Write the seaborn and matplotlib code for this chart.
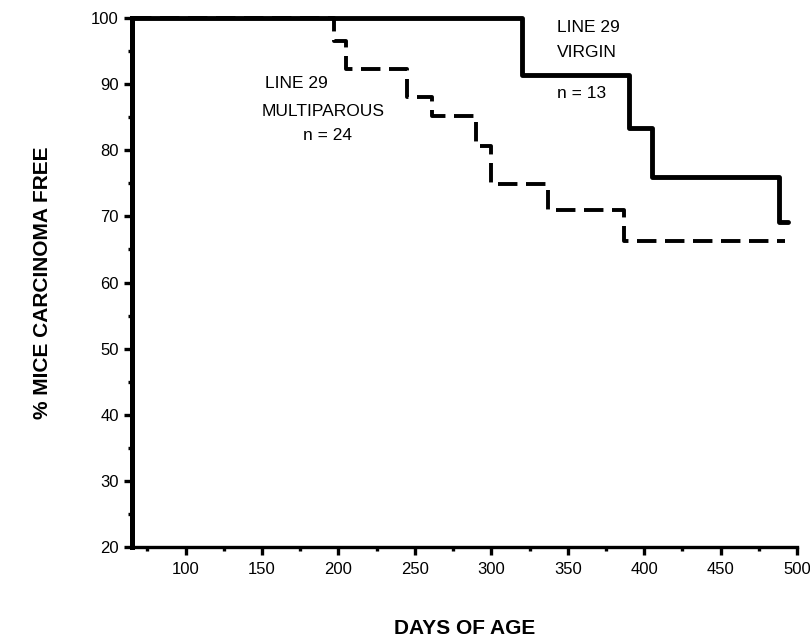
import matplotlib
matplotlib.use("Agg")
import matplotlib.pyplot as plt
import seaborn as sns
import pandas as pd

# Kaplan-Meier style step data
virgin_days = [65, 320, 390, 405, 488, 494]
virgin_pct = [100, 91.3, 83.3, 76.0, 69.1, 69.1]

multi_days = [65, 197, 205, 245, 261, 290, 300, 337, 387, 492]
multi_pct = [100, 96.5, 92.3, 88.0, 85.1, 80.7, 74.9, 70.9, 66.3, 66.3]

virgin = pd.DataFrame({"days": virgin_days, "pct": virgin_pct})
multi = pd.DataFrame({"days": multi_days, "pct": multi_pct})

sns.set_style("ticks")
plt.rcParams["font.family"] = ["Liberation Sans", "DejaVu Sans"]
plt.rcParams["text.color"] = "black"
plt.rcParams["axes.labelcolor"] = "black"
plt.rcParams["xtick.color"] = "black"
plt.rcParams["ytick.color"] = "black"

fig = plt.figure(figsize=(8.1, 6.4), dpi=100)
ax = fig.add_axes([0.163, 0.145, 0.821, 0.827])

# multiparous (dashed)
sns.lineplot(data=multi, x="days", y="pct", ax=ax, drawstyle="steps-post",
             estimator=None, color="black", lw=2.8, linestyle=(0, (5, 2.2)),
             clip_on=False)
# virgin (solid)
sns.lineplot(data=virgin, x="days", y="pct", ax=ax, drawstyle="steps-post",
             estimator=None, color="black", lw=3.5, clip_on=False)

ax.set_xlim(65, 500)
ax.set_ylim(20, 100)
ax.set_xticks(range(100, 501, 50))
ax.set_xticks(range(75, 500, 50), minor=True)
ax.set_yticks(range(20, 101, 10))
ax.set_yticks(range(25, 100, 10), minor=True)
ax.tick_params(axis="both", which="major", length=6, width=2.4, labelsize=12)
ax.tick_params(axis="both", which="minor", length=3, width=2.4)
ax.tick_params(axis="x", pad=5)

sns.despine(ax=ax)
ax.spines["left"].set_linewidth(3.6)
ax.spines["bottom"].set_linewidth(2.4)
ax.spines["left"].set_color("black")
ax.spines["bottom"].set_color("black")

ax.set_xlabel("DAYS OF AGE", fontsize=15, fontweight="bold", labelpad=30)
ax.set_ylabel("% MICE CARCINOMA FREE", fontsize=15, fontweight="bold", labelpad=28)

# curve annotations
ax.text(152, 90.1, "LINE 29", fontsize=12.5, va="center", ha="left")
ax.text(150, 85.9, "MULTIPAROUS", fontsize=12.5, va="center", ha="left")
ax.text(193, 82.2, "n = 24", fontsize=12.5, va="center", ha="center")
ax.text(343, 98.5, "LINE 29", fontsize=12.5, va="center", ha="left")
ax.text(343, 94.7, "VIRGIN", fontsize=12.5, va="center", ha="left")
ax.text(343, 88.6, "n = 13", fontsize=12.5, va="center", ha="left")

fig.savefig("out.png", dpi=100)
